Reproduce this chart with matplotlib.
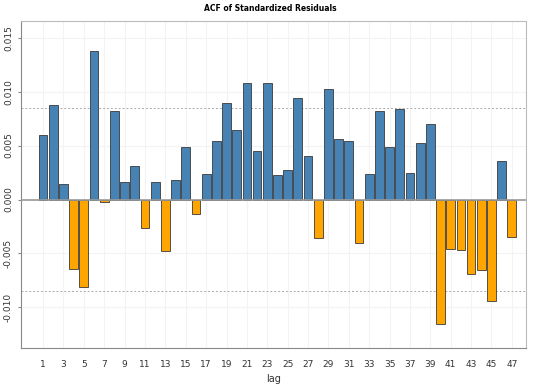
import matplotlib
matplotlib.use('Agg')
import matplotlib.pyplot as plt
import numpy as np

# ACF values, lags 1..47
lags = list(range(1, 48))
acf = [0.0060, 0.0088, 0.0014, -0.0064, -0.0081, 0.01375, -0.00026, 0.0082, 0.00165, 0.0031,
       -0.0026, 0.0016, -0.0048, 0.0018, 0.0049, -0.00137, 0.0024, 0.0054, 0.0089, 0.0064,
       0.01076, 0.00446, 0.01076, 0.00227, 0.00273, 0.0094, 0.0040, -0.00354, 0.0102, 0.00563,
       0.0054, -0.0040, 0.00233, 0.0082, 0.00489, 0.0084, 0.0025, 0.0052, 0.0070, -0.0115,
       -0.00455, -0.00465, -0.0069, -0.00656, -0.0094, 0.0036, -0.00347]
conf_band = 0.00846
xticks = list(range(1, 48, 2))
yticks = [-0.010, -0.005, 0.000, 0.005, 0.010, 0.015]

fig = plt.figure(figsize=(5.4, 3.84), dpi=100)
ax = fig.add_axes([0.0383, 0.094, 0.936, 0.851])

colors = ['#4682B4' if v >= 0 else '#FFA500' for v in acf]
ax.bar(lags, acf, width=0.86, color=colors, edgecolor='#3a3a3a', linewidth=0.6, zorder=3)

ax.axhline(0, color='#999999', linewidth=1.2, zorder=4)
ax.axhline(conf_band, color='#aaaaaa', linestyle=(0, (2, 2)), linewidth=0.7, zorder=2)
ax.axhline(-conf_band, color='#aaaaaa', linestyle=(0, (2, 2)), linewidth=0.7, zorder=2)

ax.set_xlim(-1.2, 48.4)
ax.set_ylim(-0.01375, 0.01653)
ax.set_xticks(xticks)
ax.set_yticks(yticks)
ax.set_yticklabels(['%.3f' % t for t in yticks], rotation=90, va='center')
ax.tick_params(axis='x', labelsize=6.5, colors='#333333', length=0, pad=9)
ax.tick_params(axis='y', labelsize=6.5, colors='#333333', length=2.5, pad=3, color='#888888')

ax.grid(True, color='#f3f3f3', linewidth=0.8, zorder=0)
for side in ['left', 'bottom']:
    ax.spines[side].set_color('#888888')
for side in ['top', 'right']:
    ax.spines[side].set_color('#bbbbbb')

ax.set_xlabel('lag', fontsize=7, color='#333333', labelpad=3)
fig.suptitle('ACF of Standardized Residuals', fontsize=5.5, fontweight='bold', y=0.99)

fig.savefig('out.png', dpi=100)
